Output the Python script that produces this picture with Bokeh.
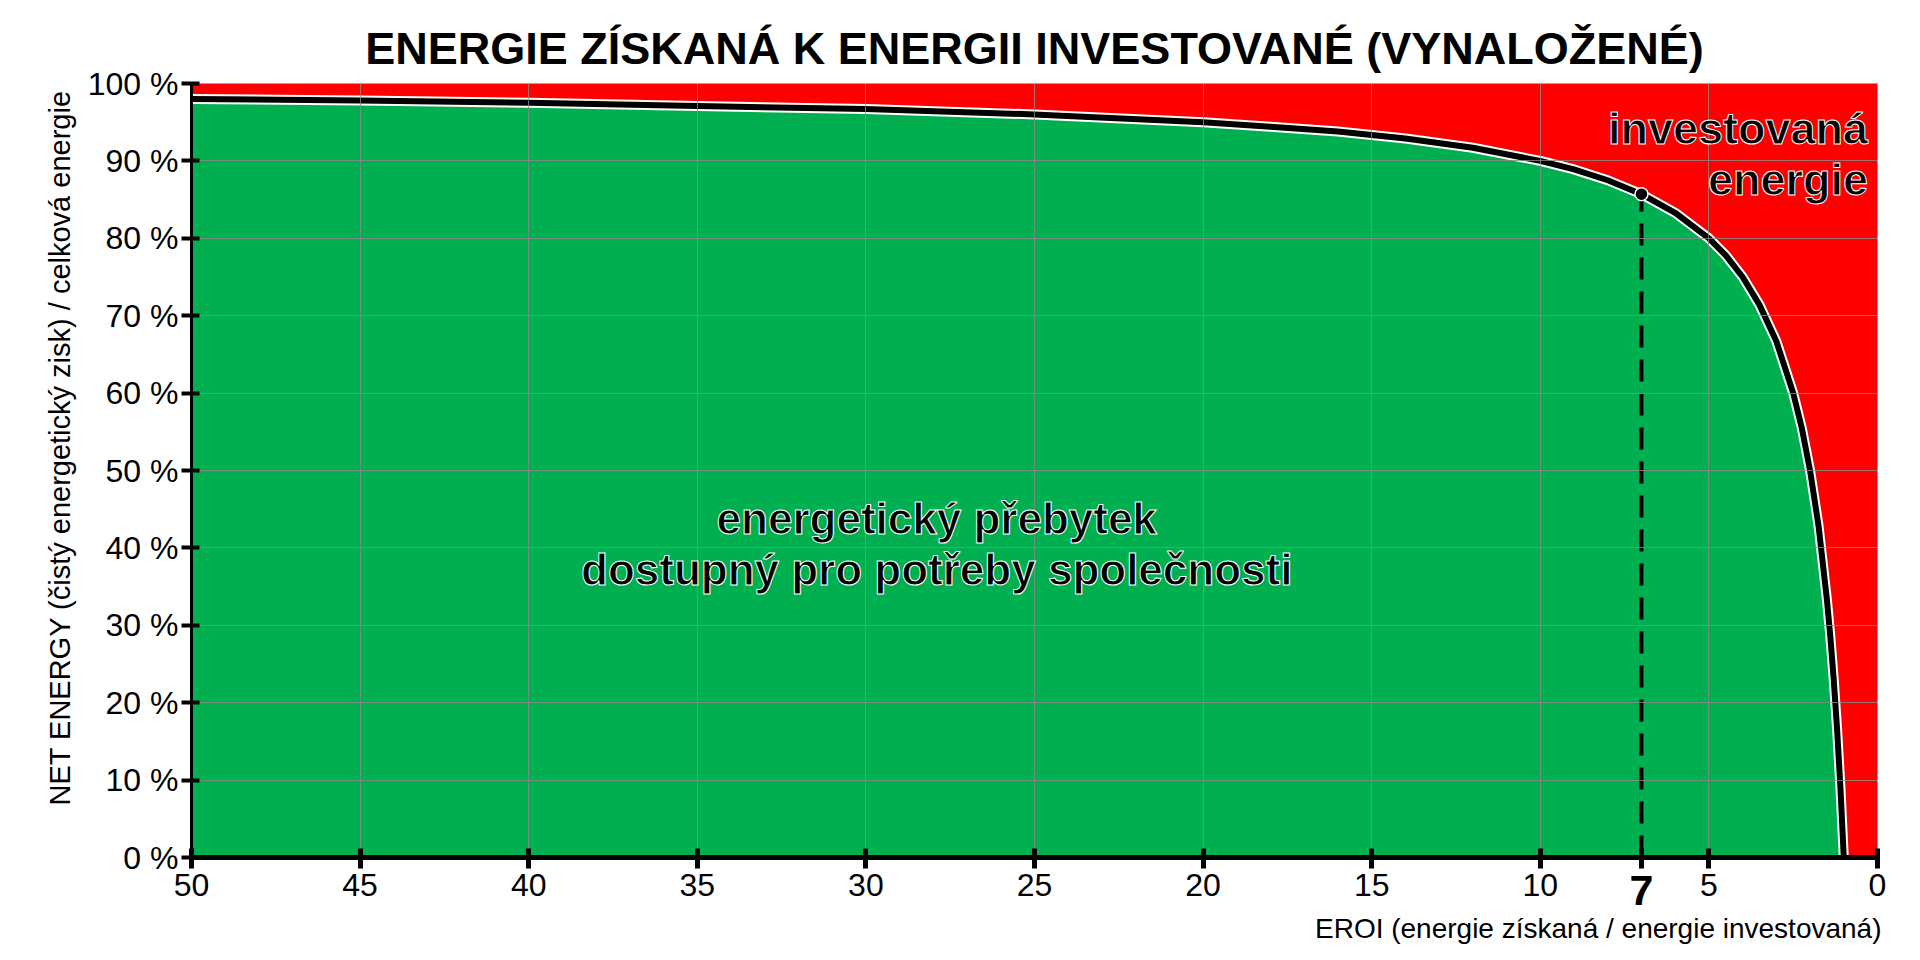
from bokeh.plotting import figure
from bokeh.models import Range1d, FixedTicker, Label, Title
from bokeh.embed import file_html
from bokeh.resources import INLINE

# ---- data ----
eroi = [1, 1.1, 1.2, 1.3, 1.4, 1.5, 1.75, 2, 2.25, 2.5, 3, 3.5, 4, 4.5, 5, 6, 7, 8, 9, 10,
        12, 14, 16, 18, 20, 25, 30, 35, 40, 45, 50]
net_energy = [0, 9.1, 16.7, 23.1, 28.6, 33.3, 42.9, 50, 55.6, 60, 66.7, 71.4, 75, 77.8, 80,
              83.3, 85.7, 87.5, 88.9, 90, 91.7, 92.9, 93.8, 94.4, 95, 96, 96.7, 97.1, 97.5,
              97.8, 98]
highlight_eroi = 7
highlight_net = 85.7
x_ticks = [50, 45, 40, 35, 30, 25, 20, 15, 10, 5, 0]
x_tick_labels = ["50", "45", "40", "35", "30", "25", "20", "15", "10", "5", "0"]
y_ticks = [0, 10, 20, 30, 40, 50, 60, 70, 80, 90, 100]
y_tick_labels = ["0 %", "10 %", "20 %", "30 %", "40 %", "50 %", "60 %", "70 %", "80 %", "90 %", "100 %"]

title_text = "ENERGIE ZÍSKANÁ K ENERGII INVESTOVANÉ (VYNALOŽENÉ)"
y_label_text = "NET ENERGY (čistý energetický zisk) / celková energie"
x_label_text = "EROI (energie získaná / energie investovaná)"
surplus_lines = ["energetický přebytek", "dostupný pro potřeby společnosti"]
invested_lines = ["investovaná", "energie"]

FONT = "Liberation Sans"
GREEN = "#00b050"
RED = "#ff0000"

p = figure(width=1920, height=960, x_range=Range1d(50, 0), y_range=Range1d(0, 100),
           output_backend="svg", toolbar_location=None,
           min_border_left=191, min_border_right=43, min_border_top=83, min_border_bottom=103,
           background_fill_color=RED, border_fill_color="white", outline_line_color=None)

# title
p.title.text = title_text
p.title.align = "center"
p.title.text_font = FONT
p.title.text_font_size = "45px"
p.title.text_font_style = "bold"
p.title.text_color = "black"
p.title.standoff = 19

# green area under the curve
area = p.varea(x=eroi, y1=[0] * len(eroi), y2=net_energy, fill_color=GREEN)
area.level = "underlay"

# grid
for g, t in ((p.xgrid, x_ticks), (p.ygrid, y_ticks)):
    g.ticker = FixedTicker(ticks=t)
    g.grid_line_color = "#8a8a8a"
    g.grid_line_width = 1
    g.grid_line_alpha = 0.8
    g.level = "glyph"

# curve with white edge
p.line(eroi, net_energy, line_color="white", line_width=10, line_join="round")
p.line(eroi, net_energy, line_color="black", line_width=6, line_join="round")

# dashed marker + point
p.segment(x0=[highlight_eroi], y0=[0], x1=[highlight_eroi], y1=[highlight_net],
          line_color="black", line_width=4, line_dash="22 12")
p.scatter([highlight_eroi], [highlight_net], size=13, fill_color="black",
          line_color="white", line_width=1.5)

# axes
xa = p.xaxis[0]
xa.ticker = FixedTicker(ticks=x_ticks + [highlight_eroi])
overrides = {t: l for t, l in zip(x_ticks, x_tick_labels)}
overrides[highlight_eroi] = ""
xa.major_label_overrides = overrides
xa.axis_line_color = "black"
xa.axis_line_width = 5
xa.major_tick_line_color = "black"
xa.major_tick_line_width = 5
xa.major_tick_in = 9
xa.major_tick_out = 11
xa.minor_tick_line_color = None
xa.major_label_standoff = 5
xa.major_label_text_font = FONT
xa.major_label_text_font_size = "32px"
xa.major_label_text_color = "black"

ya = p.yaxis[0]
ya.ticker = FixedTicker(ticks=y_ticks)
ya.major_label_overrides = {t: l for t, l in zip(y_ticks, y_tick_labels)}
ya.axis_line_color = "black"
ya.axis_line_width = 3
ya.major_tick_line_color = "black"
ya.major_tick_line_width = 4
ya.major_tick_in = 8
ya.major_tick_out = 10
ya.minor_tick_line_color = None
ya.major_label_standoff = 3
ya.major_label_text_font = FONT
ya.major_label_text_font_size = "32px"
ya.major_label_text_color = "black"

# y axis caption (vertical), starting a little above the frame bottom like the reference
p.add_layout(Title(text=y_label_text, align="left", text_font=FONT, text_font_size="29px",
                   text_font_style="normal", text_color="black", standoff=17, offset=52), "left")
# x axis caption, right-aligned under the axis
p.add_layout(Title(text=x_label_text, align="right", text_font=FONT, text_font_size="28px",
                   text_font_style="normal", text_color="black", standoff=25, offset=-4), "below")
# emphasised tick label "7" (placed in a side panel so it is not clipped)
p.add_layout(Label(x=highlight_eroi, y=-4.3, text=str(highlight_eroi), text_font=FONT,
                   text_font_size="43px", text_font_style="bold", text_align="center",
                   text_baseline="middle", text_color="black"), "right")

# texts inside the plot
for txt, yy in zip(surplus_lines, [43.8, 37.2]):
    p.add_layout(Label(x=27.9, y=yy, text=txt, text_font=FONT, text_font_size="44px",
                       text_font_style="bold", text_align="center", text_baseline="middle",
                       text_color="black", text_outline_color="white"))
for txt, yy in zip(invested_lines, [94.2, 87.6]):
    p.add_layout(Label(x=0.28, y=yy, text=txt, text_font=FONT, text_font_size="45px",
                       text_font_style="bold", text_align="right", text_baseline="middle",
                       text_color="black", text_outline_color="white"))

open("out.html", "w").write(file_html(p, INLINE))
